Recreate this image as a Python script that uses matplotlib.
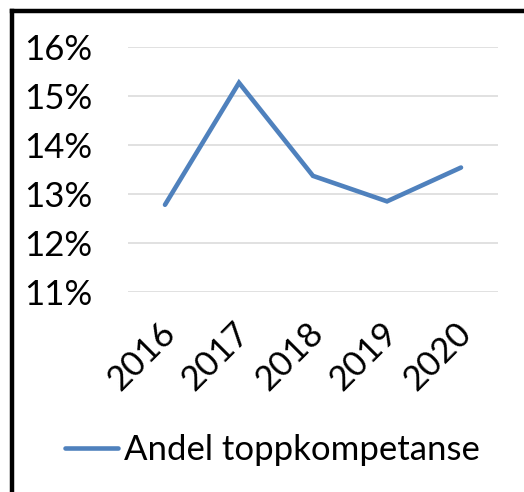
import matplotlib
matplotlib.use("Agg")
import matplotlib.pyplot as plt
from matplotlib.lines import Line2D
from matplotlib.ticker import FuncFormatter
from matplotlib.transforms import ScaledTranslation

years = ["2016", "2017", "2018", "2019", "2020"]
share = [12.78, 15.27, 13.37, 12.85, 13.54]
series_name = "Andel toppkompetanse"
yticks = [11, 12, 13, 14, 15, 16]

plt.rcParams['font.family'] = ['Lato', 'DejaVu Sans']

W, H = 524, 492
fig = plt.figure(figsize=(W/100, H/100), dpi=100)
ax = fig.add_axes([128/W, 1-292/H, (498-128)/W, (292-47)/H])

x = list(range(len(years)))
ax.plot(x, share, color='#4F81BD', lw=3.3, solid_capstyle='round', solid_joinstyle='miter', label=series_name, zorder=3)
ax.set_xlim(-0.5, len(years)-0.5)
ax.set_ylim(11, 16)
ax.set_yticks(yticks)
ax.yaxis.set_major_formatter(FuncFormatter(lambda v, p: f"{v:.0f}%"))
ax.grid(axis='y', color='#D9D9D9', lw=1.1)
ax.set_axisbelow(True)
for s in ax.spines.values():
    s.set_visible(False)
ax.tick_params(axis='both', length=0, labelsize=25)
ax.tick_params(axis='y', pad=26)
ax.set_xticks(x)
ax.set_xticklabels(years, rotation=45, ha='right', va='top', rotation_mode='anchor')
ax.tick_params(axis='x', pad=14)
off = ScaledTranslation(-6/100, -5/100, fig.dpi_scale_trans)
for lab in ax.get_xticklabels():
    lab.set_transform(lab.get_transform() + off)

leg = fig.legend(loc='center', bbox_to_anchor=(272/W, 1-450/H), frameon=False,
                 fontsize=25, handlelength=1.55, handletextpad=0.15)

fig.add_artist(Line2D([12/W, 12/W], [0, 1-11/H], transform=fig.transFigure, color='black', lw=3.2))
fig.add_artist(Line2D([12/W, 1], [1-11/H, 1-11/H], transform=fig.transFigure, color='black', lw=3.2))

fig.savefig("out.png", dpi=100)
